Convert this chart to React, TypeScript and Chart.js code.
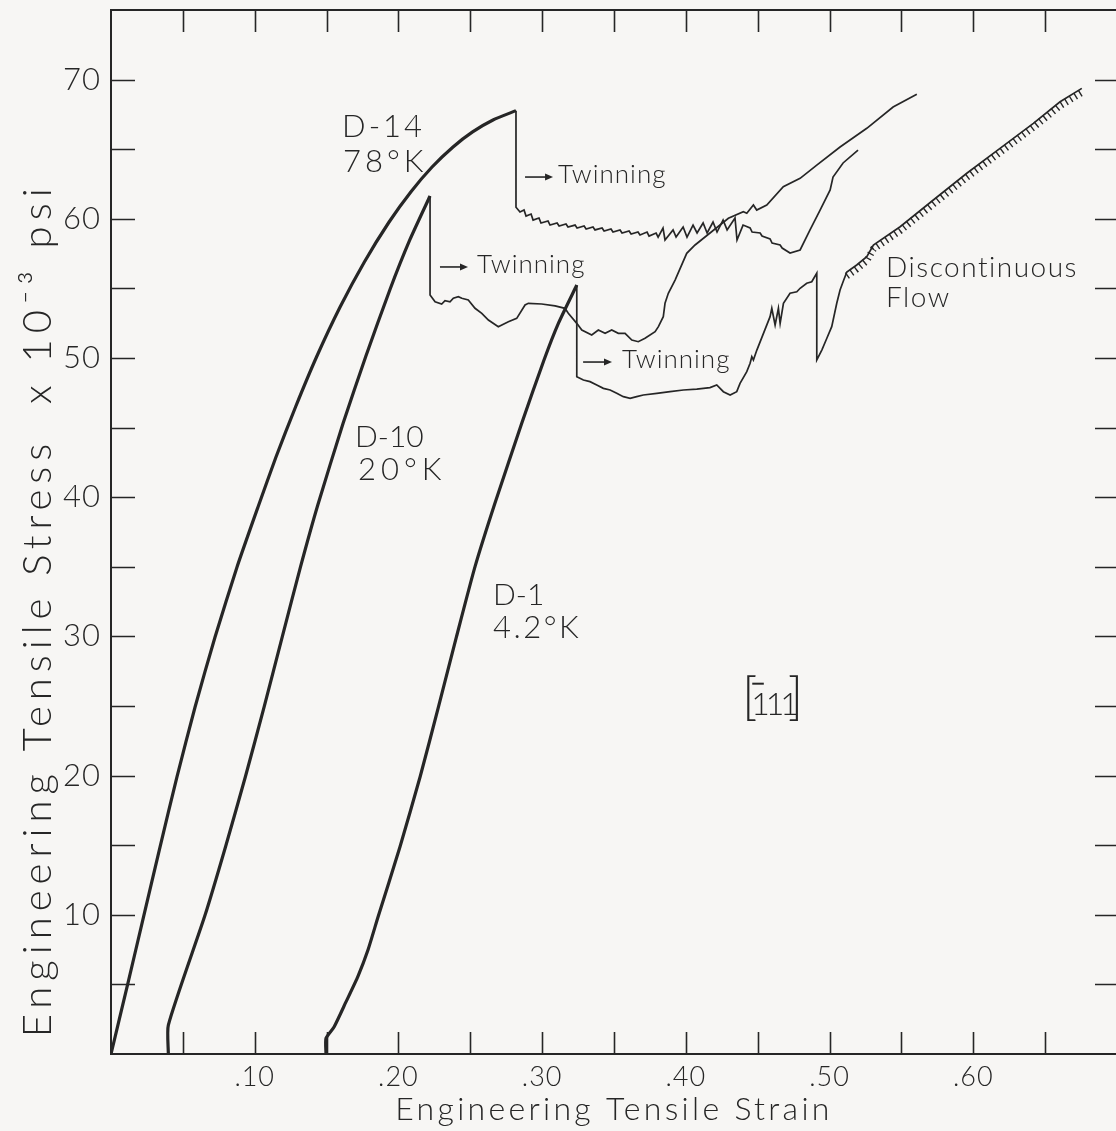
import React, { useEffect, useRef } from 'react';
import { Chart, registerables } from 'chart.js';

Chart.register(...registerables);

// ---------- DATA (strain, stress x 10^-3 psi) ----------
const D14_ELASTIC: [number, number][] = [
  [0, 0], [0.0115, 4.96], [0.0226, 9.84], [0.0341, 14.87], [0.0459, 19.9], [0.0585, 24.93],
  [0.0724, 29.96], [0.0877, 34.99], [0.1023, 39.3], [0.1148, 42.89], [0.1284, 46.48], [0.143, 50.07],
  [0.1594, 53.66], [0.1763, 56.9], [0.1935, 59.77], [0.2086, 61.93], [0.2234, 63.72], [0.238, 65.16],
  [0.2516, 66.24], [0.2658, 67.1], [0.2818, 67.77],
];
const D14_PLASTIC: [number, number][] = [
  [0.2818, 67.77], [0.2818, 60.83], [0.2846, 60.49], [0.2874, 60.63], [0.2888, 60.2], [0.2923, 60.34],
  [0.2937, 59.91], [0.2978, 60.06], [0.2992, 59.7], [0.3041, 59.84], [0.3055, 59.55], [0.3104, 59.7],
  [0.3118, 59.48], [0.3166, 59.63], [0.318, 59.41], [0.3229, 59.55], [0.3243, 59.34], [0.3292, 59.48],
  [0.3306, 59.27], [0.3354, 59.41], [0.3368, 59.2], [0.3417, 59.34], [0.3431, 59.12], [0.3479, 59.27],
  [0.3493, 59.05], [0.3542, 59.2], [0.3556, 58.98], [0.3605, 59.12], [0.3619, 58.91], [0.3667, 59.05],
  [0.3681, 58.84], [0.373, 59.05], [0.3744, 58.76], [0.3793, 58.98], [0.3807, 58.69],
  [0.3841, 59.34], [0.3855, 58.48], [0.3911, 59.2], [0.3932, 58.69], [0.3981, 59.41], [0.4008, 58.69],
  [0.405, 59.55], [0.4078, 58.98], [0.412, 59.7], [0.4148, 58.98], [0.4189, 59.77], [0.4217, 59.05],
  [0.4259, 59.91], [0.4287, 59.2], [0.4342, 60.06], [0.4356, 58.48], [0.4398, 59.55],
  [0.4447, 59.34], [0.4461, 59.05], [0.4517, 58.98], [0.453, 58.76], [0.4586, 58.55], [0.46, 58.26],
  [0.4656, 58.12], [0.467, 57.9], [0.4725, 57.54], [0.4795, 57.76], [0.4864, 59.2], [0.4934, 60.63],
  [0.5004, 62.07], [0.5024, 63.0], [0.5094, 64.01], [0.5198, 64.94],
];
const D10_ELASTIC: [number, number][] = [
  [0.0399, 0], [0.0399, 2.08], [0.0654, 9.96], [0.0797, 14.89], [0.0935, 19.92], [0.1066, 24.95],
  [0.1192, 29.98], [0.1319, 35.01], [0.1439, 39.44], [0.1615, 45.31], [0.1772, 50.09],
  [0.194, 54.89], [0.2079, 58.48], [0.222, 61.64],
];
const D10_PLASTIC: [number, number][] = [
  [0.222, 61.64], [0.222, 54.53], [0.2255, 54.04], [0.2301, 53.88], [0.2324, 54.12], [0.2359, 54.04],
  [0.2382, 54.29], [0.2417, 54.4], [0.2441, 54.29], [0.2486, 54.17], [0.2533, 53.57], [0.258, 53.21],
  [0.2626, 52.73], [0.2695, 52.25], [0.2765, 52.61], [0.2823, 52.85], [0.2881, 53.81], [0.2904, 53.93],
  [0.2997, 53.88], [0.309, 53.74], [0.3159, 53.57], [0.3182, 53.21], [0.3241, 52.49], [0.3276, 52.01],
  [0.3345, 51.65], [0.3391, 52.01], [0.3438, 51.77], [0.3484, 52.01], [0.353, 51.77], [0.3577, 51.77],
  [0.3624, 51.29], [0.3669, 51.17], [0.3716, 51.42], [0.3786, 51.89], [0.3809, 52.25], [0.3843, 52.97],
  [0.3855, 53.93], [0.3878, 54.65], [0.3925, 55.6], [0.4006, 57.52], [0.4064, 58.12],
  [0.4296, 60.04], [0.44, 60.51], [0.4424, 60.4], [0.447, 60.99], [0.4493, 60.63], [0.4563, 60.99],
  [0.4678, 62.31], [0.4795, 62.91], [0.4911, 63.86], [0.5073, 65.16], [0.5259, 66.5], [0.5442, 68.03],
  [0.5607, 68.94],
];
const D1_ELASTIC: [number, number][] = [
  [0.1496, 0], [0.1496, 1.13], [0.1552, 1.94], [0.1635, 3.74], [0.1719, 5.6], [0.1788, 7.47],
  [0.1858, 9.84], [0.2011, 14.89], [0.2151, 19.92], [0.2279, 24.95], [0.2404, 29.98], [0.2533, 35.01],
  [0.2672, 39.58], [0.2858, 45.31], [0.3013, 49.86], [0.3113, 52.49], [0.3241, 55.24],
];
const D1_PLASTIC: [number, number][] = [
  [0.3241, 55.24], [0.3241, 48.66], [0.3287, 48.42], [0.3333, 48.3], [0.338, 48.06], [0.3426, 47.82],
  [0.3473, 47.7], [0.3519, 47.46], [0.3565, 47.22], [0.3612, 47.1], [0.3658, 47.22], [0.3704, 47.34],
  [0.3798, 47.46], [0.389, 47.58], [0.3983, 47.7], [0.4076, 47.77], [0.4168, 47.87], [0.4215, 48.06],
  [0.4261, 47.58], [0.4308, 47.34], [0.4354, 47.58], [0.4377, 48.18], [0.4424, 49.02], [0.4447, 49.62],
  [0.4459, 50.09], [0.447, 49.86], [0.4494, 50.57], [0.4586, 52.97], [0.4598, 53.57], [0.4621, 52.37],
  [0.4644, 53.57], [0.4656, 52.49], [0.4679, 53.93], [0.4725, 54.65], [0.4772, 54.76], [0.4795, 55.01],
  [0.4841, 55.37], [0.4876, 55.48], [0.4911, 56.09], [0.4911, 49.86], [0.4946, 50.57], [0.4981, 51.42],
  [0.5015, 52.25], [0.505, 53.93], [0.5073, 54.89], [0.5096, 55.53],
];
const D1_FLOW: [number, number][] = [
  [0.512, 56.18], [0.5189, 56.68], [0.5259, 57.28], [0.5305, 58.12], [0.5491, 59.43], [0.5722, 61.35],
  [0.5955, 63.27], [0.6186, 65.06], [0.6418, 66.86], [0.6604, 68.41], [0.6755, 69.37],
];

const X_LABEL_VALUES = [0.1, 0.2, 0.3, 0.4, 0.5, 0.6];
const Y_LABEL_VALUES = [10, 20, 30, 40, 50, 60, 70];

const TEXT_LABELS = [
  { text: 'D-14', x: 0.1608, y: 65.88, size: 31, ls: 3, align: 'left' },
  { text: '78°K', x: 0.1614, y: 63.36, size: 31, ls: 4, align: 'left' },
  { text: 'D-10', x: 0.1698, y: 43.63, size: 30, ls: 0, align: 'left' },
  { text: '20°K', x: 0.1719, y: 41.24, size: 31, ls: 5, align: 'left' },
  { text: 'D-1', x: 0.2658, y: 32.26, size: 30, ls: 0, align: 'left' },
  { text: '4.2°K', x: 0.2658, y: 29.89, size: 31, ls: 2.5, align: 'left' },
  { text: 'Twinning', x: 0.3111, y: 62.55, size: 26, ls: 1, align: 'left' },
  { text: 'Twinning', x: 0.2547, y: 56.08, size: 26, ls: 1, align: 'left' },
  { text: 'Twinning', x: 0.3556, y: 49.26, size: 26, ls: 1, align: 'left' },
  { text: 'Discontinuous', x: 0.5393, y: 55.82, size: 28, ls: 1.5, align: 'left' },
  { text: 'Flow', x: 0.5393, y: 53.66, size: 28, ls: 1.5, align: 'left' },
  { text: '[', x: 0.4391, y: 24.39, size: 52, ls: 0, align: 'left' },
  { text: '111', x: 0.4607, y: 24.35, size: 32, ls: -4, align: 'center', barFirst: true },
  { text: ']', x: 0.4816, y: 24.39, size: 52, ls: 0, align: 'right' },
];
const ARROWS = [
  { x1: 0.2881, x2: 0.3076, y: 63.0 },
  { x1: 0.2289, x2: 0.2484, y: 56.54 },
  { x1: 0.3285, x2: 0.3486, y: 49.71 },
];

const INK = '#262626';
const BG = '#f7f6f4';
const FONT = 'Lato, "DejaVu Sans", sans-serif';

const pts = (a: [number, number][]) => a.map(([x, y]) => ({ x, y }));

function patchSpacing(s: any, titleLS: number, labelLS: number) {
  if (s.__patched) return;
  s.__patched = true;
  const dt = s.drawTitle.bind(s);
  const dl = s.drawLabels.bind(s);
  s.drawTitle = (...args: any[]) => {
    const c = s.ctx; const p = c.letterSpacing; c.letterSpacing = titleLS + 'px'; dt(...args); c.letterSpacing = p;
  };
  s.drawLabels = (...args: any[]) => {
    const c = s.ctx; const p = c.letterSpacing; c.letterSpacing = labelLS + 'px'; dl(...args); c.letterSpacing = p;
  };
}

const framePlugin = {
  id: 'frameTicks',
  beforeDraw(chart: any) {
    const { ctx } = chart;
    ctx.save();
    ctx.fillStyle = BG;
    ctx.fillRect(0, 0, chart.width, chart.height);
    ctx.restore();
  },
  beforeDatasetDraw(chart: any, args: any) {
    if (chart.data.datasets[args.index].hatch) {
      chart.ctx.save();
      chart.ctx.translate(0, 4);
    }
  },
  afterDatasetDraw(chart: any, args: any) {
    if (chart.data.datasets[args.index].hatch) chart.ctx.restore();
  },
  afterDatasetsDraw(chart: any) {
    const { ctx, chartArea: a, scales } = chart;
    const xs = scales.x, ys = scales.y;
    ctx.save();
    ctx.strokeStyle = INK;
    ctx.lineWidth = 2;
    ctx.strokeRect(a.left, a.top, a.right - a.left, a.bottom - a.top);
    ctx.lineWidth = 1.6;
    const L = 22;
    ctx.beginPath();
    xs.ticks.forEach((t: any) => {
      if (t.value <= xs.min + 1e-9 || t.value >= xs.max - 1e-9) return;
      const px = Math.round(xs.getPixelForValue(t.value)) + 0.5;
      ctx.moveTo(px, a.bottom); ctx.lineTo(px, a.bottom - L);
      ctx.moveTo(px, a.top); ctx.lineTo(px, a.top + L);
    });
    ys.ticks.forEach((t: any) => {
      if (t.value <= ys.min + 1e-9 || t.value >= ys.max - 1e-9) return;
      const py = Math.round(ys.getPixelForValue(t.value)) + 0.5;
      ctx.moveTo(a.left, py); ctx.lineTo(a.left + L + 2, py);
      ctx.moveTo(a.right, py); ctx.lineTo(a.right - L, py);
    });
    ctx.stroke();

    // arrows
    ctx.fillStyle = INK;
    ctx.lineWidth = 1.6;
    ARROWS.forEach((ar) => {
      const x1 = xs.getPixelForValue(ar.x1), x2 = xs.getPixelForValue(ar.x2), y = ys.getPixelForValue(ar.y);
      ctx.beginPath(); ctx.moveTo(x1, y); ctx.lineTo(x2 - 6, y); ctx.stroke();
      ctx.beginPath(); ctx.moveTo(x2, y); ctx.lineTo(x2 - 8, y - 3.5); ctx.lineTo(x2 - 8, y + 3.5); ctx.closePath(); ctx.fill();
    });

    // text labels
    ctx.textBaseline = 'alphabetic';
    TEXT_LABELS.forEach((l: any) => {
      ctx.font = `300 ${l.size}px ${FONT}`;
      (ctx as any).letterSpacing = l.ls + 'px';
      ctx.textAlign = l.align;
      const px = xs.getPixelForValue(l.x), py = ys.getPixelForValue(l.y);
      ctx.fillText(l.text, px, py);
      if (l.barFirst) {
        const w = ctx.measureText(l.text).width;
        const w1 = ctx.measureText('1').width;
        const left = px - w / 2;
        ctx.lineWidth = 2;
        ctx.beginPath();
        ctx.moveTo(left + 1, py - l.size * 0.98);
        ctx.lineTo(left + w1 - 2, py - l.size * 0.98);
        ctx.stroke();
      }
    });
    ctx.restore();
  },
};

export default function App() {
  const ref = useRef<HTMLCanvasElement | null>(null);
  useEffect(() => {
    if (!ref.current) return;
    const thick = { borderColor: INK, borderWidth: 3.2, pointRadius: 0, showLine: true, tension: 0.2, fill: false };
    const thin = { borderColor: INK, borderWidth: 1.7, pointRadius: 0, showLine: true, tension: 0, fill: false };
    const chart = new Chart(ref.current, {
      type: 'scatter',
      data: {
        datasets: [
          { label: 'D-14 78°K', data: pts(D14_ELASTIC), ...thick },
          { label: 'D-14 78°K plastic', data: pts(D14_PLASTIC), ...thin },
          { label: 'D-10 20°K', data: pts(D10_ELASTIC), ...thick },
          { label: 'D-10 20°K plastic', data: pts(D10_PLASTIC), ...thin },
          { label: 'D-1 4.2°K', data: pts(D1_ELASTIC), ...thick },
          { label: 'D-1 4.2°K plastic', data: pts([...D1_PLASTIC, ...D1_FLOW]), ...thin },
          { label: 'Discontinuous flow', data: pts(D1_FLOW), ...thin, borderWidth: 7, borderDash: [1.4, 4], hatch: true } as any,
        ],
      },
      options: {
        animation: false,
        responsive: false,
        devicePixelRatio: 1,
        layout: { padding: { top: 10, right: 13, left: 0, bottom: 0 } },
        plugins: { legend: { display: false }, tooltip: { enabled: false } },
        scales: {
          x: {
            type: 'linear', min: 0, max: 0.7, position: 'bottom',
            grid: { display: false, drawTicks: false },
            border: { display: false },
            ticks: {
              stepSize: 0.05, autoSkip: false, maxRotation: 0, padding: 7, color: INK,
              font: { size: 27, family: FONT, weight: '300' },
              callback: (v: any) => {
                const hit = X_LABEL_VALUES.find((lv) => Math.abs(lv - v) < 1e-6);
                return hit ? hit.toFixed(2).replace(/^0/, '') : '';
              },
            },
            title: { display: true, text: 'Engineering Tensile Strain', color: INK, font: { size: 32, family: FONT, weight: '300' }, padding: { top: 0, bottom: 2 } },
            afterFit: (s: any) => { s.height = 77; s.paddingLeft = 0; s.paddingRight = 0; patchSpacing(s, 3.3, 1); },
          },
          y: {
            type: 'linear', min: 0, max: 75, position: 'left',
            grid: { display: false, drawTicks: false },
            border: { display: false },
            ticks: {
              stepSize: 5, autoSkip: false, padding: 10, color: INK,
              font: { size: 31, family: FONT, weight: '300' },
              callback: (v: any) => (Y_LABEL_VALUES.includes(v) ? String(v) : ''),
            },
            title: { display: true, text: ' Engineering Tensile Stress  x 10\u207B\u00B3 psi', align: 'start', color: INK, font: { size: 40, family: FONT, weight: '300' }, padding: { top: 14, bottom: 0 } },
            afterFit: (s: any) => { s.width = 111; s.paddingTop = 0; s.paddingBottom = 0; patchSpacing(s, 6, 1); },
          },
        },
      } as any,
      plugins: [framePlugin],
    });
    return () => chart.destroy();
  }, []);
  return (
    <div style={{ position: 'absolute', left: 0, top: 0, width: 1116, height: 1131, overflow: 'hidden', background: BG }}>
      <canvas ref={ref} width={1130} height={1131} style={{ display: 'block', width: 1130, height: 1131 }} />
    </div>
  );
}
